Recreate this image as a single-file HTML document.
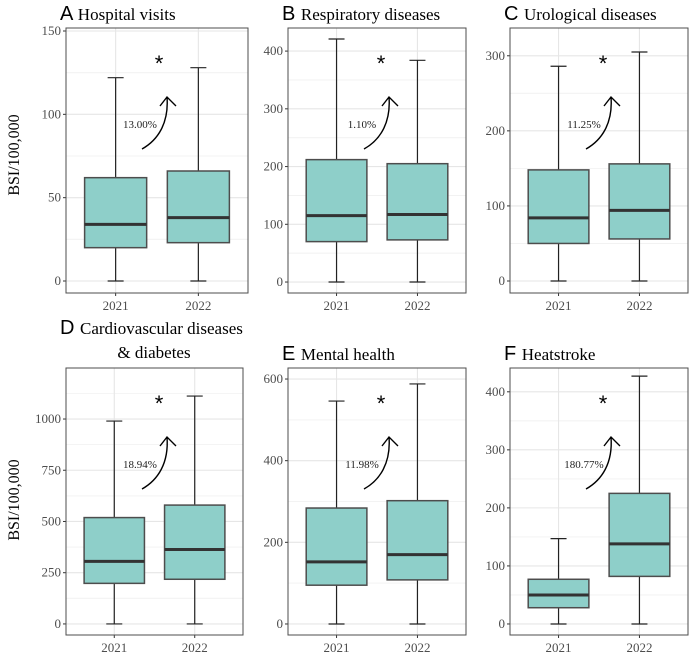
<!DOCTYPE html>
<html><head><meta charset="utf-8">
<style>
html,body{margin:0;padding:0;background:#fff;}
svg{display:block;}
.tick{font-family:"Liberation Serif",serif;font-size:13px;fill:#4d4d4d;}
.ttl{font-family:"Liberation Serif",serif;font-size:17px;fill:#000;}
.let{font-family:"Liberation Sans",sans-serif;font-size:20px;fill:#000;}
.ann{font-family:"Liberation Serif",serif;font-size:11px;fill:#222;}
.ast{font-family:"Liberation Sans",sans-serif;font-size:22px;fill:#000;}
.ytl{font-family:"Liberation Serif",serif;font-size:16px;fill:#000;}
</style></head>
<body>
<svg id="chart" width="690" height="655" viewBox="0 0 690 655" xmlns="http://www.w3.org/2000/svg">
<text class="ytl" transform="translate(19,155) rotate(-90)" text-anchor="middle">BSI/100,000</text>
<text class="ytl" transform="translate(19,500) rotate(-90)" text-anchor="middle">BSI/100,000</text>
</svg>
<script>
const categories = ["2021","2022"];
const panelLetters = ["A","B","C","D","E","F"];
const panelTitles = [["Hospital visits"],["Respiratory diseases"],["Urological diseases"],["Cardiovascular diseases","& diabetes"],["Mental health"],["Heatstroke"]];
// [min, q1, median, q3, max] per category
const statsA = [[0,20,34,62,122],[0,23,38,66,128]];
const statsB = [[0,70,115,212,421],[0,73,117,205,384]];
const statsC = [[0,50,84,148,286],[0,56,94,156,305]];
const statsD = [[0,198,305,519,990],[0,218,363,580,1112]];
const statsE = [[0,95,152,284,546],[0,108,170,302,588]];
const statsF = [[0,28,50,77,147],[0,82,138,225,427]];
const ticksA = [0,50,100,150];
const ticksB = [0,100,200,300,400];
const ticksC = [0,100,200,300];
const ticksD = [0,250,500,750,1000];
const ticksE = [0,200,400,600];
const ticksF = [0,100,200,300,400];
const domainsY = [[-7.2,151.8],[-19,440],[-16,337],[-54,1249],[-27,627],[-19,441]];
const pctLabels = ["13.00%","1.10%","11.25%","18.94%","11.98%","180.77%"];

const NS="http://www.w3.org/2000/svg";
const svg=document.getElementById('chart');
function mk(tag,attrs,parent){const e=document.createElementNS(NS,tag);for(const k in attrs)e.setAttribute(k,attrs[k]);(parent||svg).appendChild(e);return e;}

const frames=[[66,28,248,293],[288,28,466,293],[510,28,688,293],[66,368,243,635],[288,368,466,635],[510,368,688,635]];
const allStats=[statsA,statsB,statsC,statsD,statsE,statsF];
const allTicks=[ticksA,ticksB,ticksC,ticksD,ticksE,ticksF];

frames.forEach((f,i)=>{
  const [x0,y0,x1,y1]=f;
  const g=mk('g',{});
  
  
  const [dmin,dmax]=domainsY[i];
  const y=v=>y1-(v-dmin)/(dmax-dmin)*(y1-y0);
  const x=c=>x0+(c+1-0.4)/2.2*(x1-x0);
  const bw=0.75/2.2*(x1-x0);
  const ticks=allTicks[i];
  for(let k=0;k<ticks.length;k++){
    const step=ticks[1]-ticks[0];
    [ticks[k]-step/2,ticks[k]+step/2].forEach(v=>{
      if(v>dmin&&v<dmax){const l=mk('line',{x1:x0,x2:x1,y1:y(v),y2:y(v),stroke:'#f2f2f2','stroke-width':0.8},g);
      }
    });
  }
  ticks.forEach(v=>{
    const l=mk('line',{x1:x0,x2:x1,y1:y(v),y2:y(v),stroke:'#e6e6e6','stroke-width':1.1},g);
    
    const tk=mk('line',{x1:x0-3,x2:x0,y1:y(v),y2:y(v),stroke:'#333','stroke-width':1},g);
    
    const t=mk('text',{x:x0-5,y:y(v)+4,'text-anchor':'end',class:'tick'},g);t.textContent=v;
    
  });
  categories.forEach((c,ci)=>{
    const l=mk('line',{x1:x(ci),x2:x(ci),y1:y0,y2:y1,stroke:'#e6e6e6','stroke-width':1.1},g);
    
  });
  categories.forEach((c,ci)=>{
    const s=allStats[i][ci];const cx=x(ci);
    const w=mk('line',{x1:cx,x2:cx,y1:y(s[0]),y2:y(s[4]),stroke:'#222','stroke-width':1.2},g);
    
    [s[0],s[4]].forEach(v=>{const cap=mk('line',{x1:cx-8,x2:cx+8,y1:y(v),y2:y(v),stroke:'#222','stroke-width':1.2},g);
      });
    const b=mk('rect',{x:cx-bw/2,y:y(s[3]),width:bw,height:y(s[1])-y(s[3]),fill:'#8ecfc9',stroke:'#4d4d4d','stroke-width':1.5},g);
    
    const m=mk('line',{x1:cx-bw/2,x2:cx+bw/2,y1:y(s[2]),y2:y(s[2]),stroke:'#333','stroke-width':3},g);
    
    const tk=mk('line',{x1:cx,x2:cx,y1:y1,y2:y1+3,stroke:'#333','stroke-width':1},g);
    
    const t=mk('text',{x:cx,y:y1+17,'text-anchor':'middle',class:'tick'},g);t.textContent=c;
    
  });
  const r=mk('rect',{x:x0,y:y0,width:x1-x0,height:y1-y0,fill:'none',stroke:'#4d4d4d','stroke-width':1},g);
  
  const ax=x0,ay=y0;
  const p=mk('path',{d:`M${ax+76} ${ay+121} C${ax+92} ${ay+112} ${ax+103} ${ay+95} ${ax+101} ${ay+69} M${ax+94} ${ay+78} L${ax+101} ${ay+69} L${ax+110} ${ay+78}`,fill:'none',stroke:'#000','stroke-width':1.4},g);
  
  const lt=mk('text',{x:ax+74,y:ay+100,'text-anchor':'middle',class:'ann'},g);lt.textContent=pctLabels[i];
  
  const as=mk('text',{x:ax+93,y:ay+43,'text-anchor':'middle',class:'ast'},g);as.textContent='*';
  
  const lines=panelTitles[i];
  const tt=mk('text',{x:x0-6,y:lines.length>1?y0-34:y0-8},g);
  
  const l1=mk('tspan',{class:'let'},tt);l1.textContent=panelLetters[i]+' ';
  const l2=mk('tspan',{class:'ttl'},tt);l2.textContent=lines[0];
  if(lines.length>1){const t2=mk('text',{x:x0+88,y:y0-10,'text-anchor':'middle',class:'ttl'},g);t2.textContent=lines[1];
    }
});
</script>
</body></html>
